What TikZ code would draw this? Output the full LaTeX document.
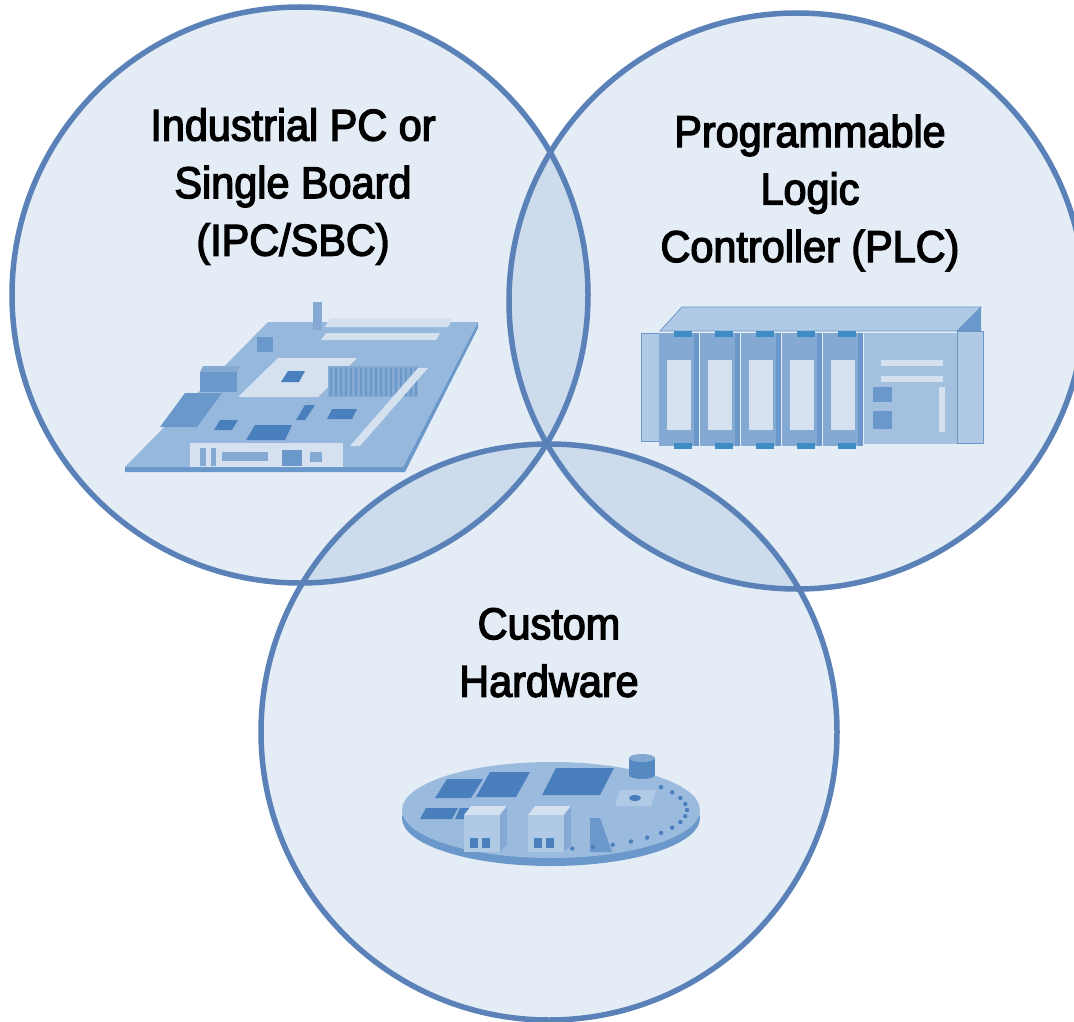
\documentclass[tikz,border=0pt]{standalone}
\usepackage{fontspec}
\setmainfont{Liberation Sans}[FakeStretch=0.93,FakeBold=3]
\usepackage{xcolor}
\definecolor{setblue}{HTML}{4F81BD}
\definecolor{setedge}{HTML}{5B82B8}
\definecolor{partlight}{HTML}{D5E1EF}
\definecolor{parttop}{HTML}{96B8DD}
\definecolor{partmid}{HTML}{84AAD4}
\definecolor{partshade}{HTML}{6A98CB}
\definecolor{partdark}{HTML}{4A7FBE}
\definecolor{partdeep}{HTML}{3F8CC4}
\definecolor{partside}{HTML}{B0C9E4}
\RequirePackage{tikz}

\begin{document}
\begin{tikzpicture}[x=1pt, y=-1pt,
    setfill/.style={fill=setblue, fill opacity=0.15},
    setline/.style={draw=setedge, line width=5.5pt},
    settext/.style={align=center, anchor=base, text=black,
      font=\fontsize{44.5}{57.5}\selectfont},
    outline/.style={draw=partshade, line width=0.8pt}]
			\useasboundingbox (0,0) rectangle (1074,1022);
			\clip (0,0) rectangle (1074,1022);
			\fill[white] (0,0) rectangle (1074,1022);
			\coordinate (ipc) at (300,295);
			\coordinate (plc) at (797,301);
			\coordinate (cust) at (549,732);
			\foreach \c in {ipc,plc,cust}
				\fill[setfill] (\c) circle (288pt);
			% industrial PC board
			\fill[partshade] (125,467) -- (403,467) -- (478,322) -- (478,328) -- (405,472) -- (125,472) -- cycle;
			\fill[parttop] (125,467) -- (403,467) -- (478,322) -- (268,322) -- cycle;
			\fill[partmid] (313,302) rectangle (322,330);
			\fill[partlight] (330,318) -- (453,318) -- (448,327) -- (325,327) -- cycle;
			\fill[partlight] (326,333) -- (440,333) -- (436,340) -- (321,340) -- cycle;
			\fill[partshade] (257,337) rectangle (273,352);
			\fill[partmid] (203,366) -- (240,366) -- (237,372) -- (200,372) -- cycle;
			\fill[partshade] (200,372) rectangle (237,392);
			\fill[partshade] (185,393) -- (222,393) -- (197,427) -- (160,427) -- cycle;
			\fill[partlight] (278,358) -- (357,358) -- (318,397) -- (238,397) -- cycle;
			\fill[partdark] (288,371) -- (305,371) -- (299,382) -- (281,382) -- cycle;
			\fill[partmid] (328,366) rectangle (418,397);
			\foreach \x in {331,336,...,416}
				\draw[partshade, line width=1.6pt] (\x,368) -- (\x,396);
			\fill[partlight] (418,368) -- (428,368) -- (360,446) -- (350,446) -- cycle;
			\fill[partdark] (255,425) -- (292,425) -- (285,440) -- (246,440) -- cycle;
			\fill[partdark] (332,409) -- (357,409) -- (352,419) -- (327,419) -- cycle;
			\fill[partdark] (305,405) -- (315,405) -- (305,420) -- (296,420) -- cycle;
			\fill[partdark] (220,420) -- (238,420) -- (232,430) -- (214,430) -- cycle;
			\fill[partlight] (190,443) rectangle (343,467);
			\fill[partmid] (200,448) rectangle (206,466);
			\fill[partmid] (211,448) rectangle (216,466);
			\fill[partmid] (222,452) rectangle (268,461);
			\fill[partshade] (282,450) rectangle (302,466);
			\fill[partmid] (310,452) rectangle (322,462);
			% PLC rack
			\fill[partside, outline] (660,331) -- (682,307) -- (981,307) -- (957,331) -- cycle;
			\fill[partshade] (957,331) -- (981,307) -- (981,331) -- cycle;
			\fill[partside, outline] (957,331) rectangle (983,443);
			\fill[partside, outline] (641,333) rectangle (661,441);
			\foreach \mx in {659,700,741,782,823} {
				\fill[partmid] (\mx,333) rectangle (\mx+40,446);
				\fill[partshade] (\mx+35,333) rectangle (\mx+40,446);
				\fill[partlight] (\mx+8,360) rectangle (\mx+32,430);
				\fill[partdeep] (\mx+15,331) rectangle (\mx+33,337);
				\fill[partdeep] (\mx+15,443) rectangle (\mx+33,449);
			}
			\fill[partside!70!partmid] (864,333) rectangle (957,444);
			\fill[partlight] (881,360) rectangle (943,366);
			\fill[partlight] (881,376) rectangle (943,382);
			\fill[partshade] (873,387) rectangle (892,402);
			\fill[partshade] (873,411) rectangle (892,429);
			\fill[partlight] (939,387) rectangle (945,432);
			% custom board
			\fill[partshade] (551,818) ellipse [x radius=149pt, y radius=48pt];
			\fill[parttop!80!partside] (551,810) ellipse [x radius=149pt, y radius=48pt];
			\fill[partdark] (447,779) -- (483,779) -- (471,798) -- (435,798) -- cycle;
			\fill[partdark] (490,772) -- (530,772) -- (516,797) -- (476,797) -- cycle;
			\fill[partdark] (556,768) -- (614,768) -- (600,795) -- (542,795) -- cycle;
			\fill[partdark] (426,808) -- (458,808) -- (452,819) -- (420,819) -- cycle;
			\fill[partdark] (460,808) -- (476,808) -- (471,819) -- (455,819) -- cycle;
			\foreach \bx in {464,528} {
				\fill[partlight] (\bx,815) -- (\bx+7,806) -- (\bx+43,806) -- (\bx+36,815) -- cycle;
				\fill[partside] (\bx,815) rectangle (\bx+36,852);
				\fill[partmid] (\bx+36,815) -- (\bx+43,806) -- (\bx+43,845) -- (\bx+36,852) -- cycle;
				\fill[partdark] (\bx+6,838) rectangle (\bx+14,848);
				\fill[partdark] (\bx+18,838) rectangle (\bx+26,848);
			}
			\fill[partshade] (590,818) -- (600,818) -- (612,852) -- (590,852) -- cycle;
			\fill[partside] (620,790) -- (656,790) -- (651,806) -- (615,806) -- cycle;
			\fill[partdark] (635,798) ellipse [x radius=6pt, y radius=3pt];
			\fill[partdark!80!partmid] (629,758) rectangle (655,775);
			\fill[partdark!80!partmid] (642,775) ellipse [x radius=13pt, y radius=4pt];
			\fill[partmid] (642,758) ellipse [x radius=13pt, y radius=4pt];
			\foreach \a in {36,27,...,-81}
				\fill[partdark] (551,810) ++(\a:136pt and 39pt) circle (2.2pt);
			\foreach \c in {ipc,plc,cust}
				\draw[setline] (\c) circle (288pt);
			\node[settext] (ipclabel) at (293,255.6) {Industrial PC or\\Single Board\\(IPC/SBC)};
			\node[settext] (plclabel) at (810,262) {Programmable\\Logic\\Controller (PLC)};
			\node[settext] (custlabel) at (549,696.7) {Custom\\Hardware};
		\end{tikzpicture}
\end{document}
